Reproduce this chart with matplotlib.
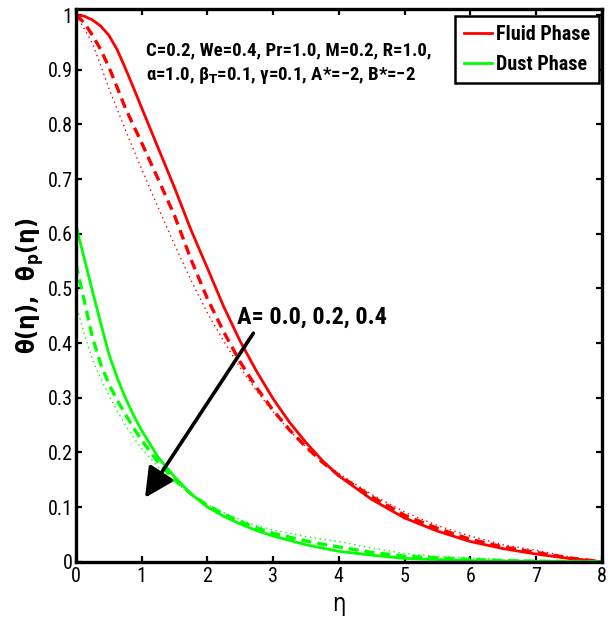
import matplotlib
matplotlib.use("Agg")
import matplotlib.pyplot as plt

FAM = ['Roboto Condensed', 'Open Sans Condensed', 'Noto Sans', 'DejaVu Sans']
plt.rcParams['font.family'] = FAM
plt.rcParams['font.stretch'] = 'condensed'
plt.rcParams['mathtext.fontset'] = 'custom'
plt.rcParams['mathtext.rm'] = 'DejaVu Sans'
plt.rcParams['mathtext.bf'] = 'DejaVu Sans:bold'
plt.rcParams['mathtext.it'] = 'DejaVu Sans:italic'

# ---- data ----
eta = [0, 0.125, 0.25, 0.375, 0.5, 0.625, 0.75, 0.875, 1.0, 1.25, 1.5, 1.75, 2.0,
       2.25, 2.5, 2.75, 3.0, 3.25, 3.5, 3.75, 4.0, 4.5, 5.0, 5.5, 6.0, 6.5, 7.0,
       7.5, 8.0]

fluid_A00 = [1.000, 0.998, 0.991, 0.980, 0.963, 0.937, 0.903, 0.867, 0.830, 0.757,
             0.684, 0.607, 0.537, 0.466, 0.403, 0.348, 0.298, 0.255, 0.218, 0.185,
             0.157, 0.114, 0.080, 0.056, 0.037, 0.024, 0.014, 0.006, 0.000]
fluid_A02 = [1.000, 0.986, 0.963, 0.937, 0.905, 0.868, 0.830, 0.798, 0.766, 0.700,
             0.633, 0.553, 0.481, 0.420, 0.365, 0.318, 0.277, 0.241, 0.210, 0.182,
             0.158, 0.119, 0.085, 0.061, 0.041, 0.027, 0.017, 0.007, 0.000]
fluid_A04 = [1.000, 0.975, 0.948, 0.908, 0.866, 0.828, 0.790, 0.754, 0.718, 0.648,
             0.580, 0.515, 0.455, 0.403, 0.355, 0.312, 0.274, 0.240, 0.210, 0.184,
             0.161, 0.123, 0.091, 0.066, 0.047, 0.031, 0.021, 0.009, 0.000]

dust_A00 = [0.615, 0.555, 0.495, 0.437, 0.380, 0.337, 0.300, 0.268, 0.240, 0.191,
            0.155, 0.124, 0.100, 0.083, 0.069, 0.057, 0.047, 0.039, 0.031, 0.025,
            0.019, 0.012, 0.006, 0.004, 0.002, 0.001, 0.0005, 0.0002, 0.000]
dust_A02 = [0.545, 0.478, 0.410, 0.362, 0.325, 0.296, 0.270, 0.245, 0.222, 0.182,
            0.150, 0.124, 0.103, 0.087, 0.073, 0.062, 0.052, 0.045, 0.038, 0.032,
            0.027, 0.017, 0.010, 0.007, 0.004, 0.002, 0.001, 0.0005, 0.000]
dust_A04 = [0.472, 0.417, 0.370, 0.335, 0.305, 0.276, 0.250, 0.227, 0.207, 0.173,
            0.146, 0.124, 0.105, 0.090, 0.077, 0.066, 0.058, 0.052, 0.046, 0.041,
            0.037, 0.025, 0.015, 0.010, 0.007, 0.004, 0.002, 0.001, 0.000]

x_ticks = [0, 1, 2, 3, 4, 5, 6, 7, 8]
y_ticks = [0, 0.1, 0.2, 0.3, 0.4, 0.5, 0.6, 0.7, 0.8, 0.9, 1.0]
y_ticklabels = ['0', '0.1', '0.2', '0.3', '0.4', '0.5', '0.6', '0.7', '0.8', '0.9', '1']

# ---- figure ----
fig = plt.figure(figsize=(6.08, 6.26), dpi=100)
ax = fig.add_axes([0.125, 0.1027, 0.8645, 0.8829])

red = (1, 0, 0)
green = (0, 1, 0)
solid_kw = dict(lw=2.0, linestyle='-')
dash_kw = dict(lw=2.4, linestyle=(0, (3.0, 1.8)))
dot_kw = dict(lw=1.0, linestyle=(0, (1.0, 2.6)))

ax.plot(eta, fluid_A00, color=red, label='Fluid Phase', **solid_kw)
ax.plot(eta, fluid_A02, color=red, **dash_kw)
ax.plot(eta, fluid_A04, color=red, **dot_kw)
ax.plot(eta, dust_A00, color=green, label='Dust Phase', **solid_kw)
ax.plot(eta, dust_A02, color=green, **dash_kw)
ax.plot(eta, dust_A04, color=green, **dot_kw)

ax.set_xlim(0, 8)
ax.set_ylim(0, 1.011)
ax.set_xticks(x_ticks)
ax.set_yticks(y_ticks)
ax.set_yticklabels(y_ticklabels)

for s in ax.spines.values():
    s.set_linewidth(2.4)
    s.set_color('black')
ax.tick_params(direction='in', length=4, width=1.6, top=True, right=True,
               labelsize=14.5, colors='black')
ax.tick_params(axis='y', pad=2.5)
ax.tick_params(axis='x', pad=4)

ax.set_xlabel('η', fontsize=17, family=['DejaVu Sans'], labelpad=4)
ax.set_ylabel('θ(η),  θ$_\\mathbf{p}$(η)', fontsize=17.5, fontweight='bold',
              family=['DejaVu Sans'])
ax.yaxis.set_label_coords(-0.057, 0.50)

ax.text(1.065, 0.9264, 'C=0.2, We=0.4, Pr=1.0, M=0.2, R=1.0,', fontsize=13.5,
        fontweight='bold', va='baseline', ha='left')
ax.text(1.065, 0.8806, 'α=1.0, β$_\\mathbf{T}$=0.1, γ=0.1, A*=\u22122, B*=\u22122', fontsize=13.5,
        fontweight='bold', va='baseline', ha='left')

ax.text(2.445, 0.436, 'A= 0.0, 0.2, 0.4', fontsize=17.5, fontweight='bold',
        va='baseline', ha='left')
ax.annotate('', xy=(1.05, 0.117), xytext=(2.70, 0.418),
            arrowprops=dict(arrowstyle='-|>,head_length=0.9,head_width=0.45',
                            color='black', lw=2.6, shrinkA=0, shrinkB=0,
                            mutation_scale=20))

leg = ax.legend(loc='upper right', bbox_to_anchor=(0.995, 0.988), borderaxespad=0,
                prop={'weight': 'bold', 'size': 14.5, 'stretch': 'condensed', 'family': FAM},
                handlelength=1.4, handletextpad=0.18, labelspacing=0.55, borderpad=0.45,
                fancybox=False, framealpha=1, edgecolor='black')
leg.get_frame().set_linewidth(1.8)

fig.savefig('out.png', dpi=100)
